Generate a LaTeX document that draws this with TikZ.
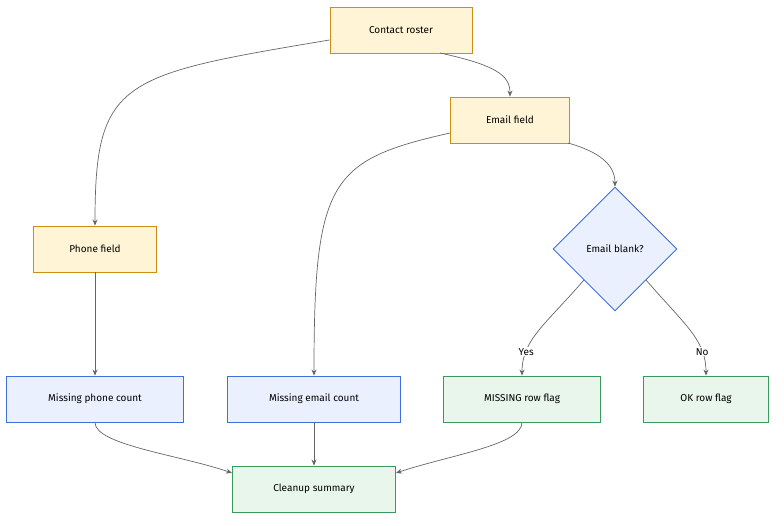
\documentclass[tikz,border=0pt]{standalone}
\usepackage{fontspec}
\setmainfont{Fira Sans}
\usetikzlibrary{shapes.geometric,arrows.meta}
\definecolor{orgfill}{HTML}{FFF4D6}
\definecolor{orgline}{HTML}{CC8F14}
\definecolor{bluefill}{HTML}{EAF0FD}
\definecolor{blueline}{HTML}{3F6FD8}
\definecolor{grnfill}{HTML}{E9F6EC}
\definecolor{grnline}{HTML}{3A9A5E}
\definecolor{edge}{HTML}{666666}
\tikzset{
  box/.style={draw, line width=0.9pt, minimum height=46pt, inner sep=0pt, font=\fontsize{10}{12}\selectfont},
  src/.style={box, fill=orgfill, draw=orgline},
  cnt/.style={box, fill=bluefill, draw=blueline},
  res/.style={box, fill=grnfill, draw=grnline},
  ask/.style={diamond, draw=blueline, fill=bluefill, line width=0.9pt, minimum width=124pt, minimum height=124pt, inner sep=0pt, font=\fontsize{10}{12}\selectfont},
  flow/.style={draw=edge, line width=0.7pt, -{Stealth[length=6pt,width=5pt]}},
  tag/.style={fill=white, inner sep=1pt, font=\fontsize{10}{12}\selectfont}
}
\begin{document}
\begin{tikzpicture}[x=1pt,y=-1pt]
	\useasboundingbox (0,0) rectangle (784,526);
	% Nodes:
	\node[src, minimum width=142pt] (roster) at (401,30) {Contact roster};
	\node[src, minimum width=119pt] (email) at (510,120) {Email field};
	\node[src, minimum width=123pt] (phone) at (95,249) {Phone field};
	\node[ask] (blank) at (615,249) {Email blank?};
	\node[cnt, minimum width=177pt] (mphone) at (95,399) {Missing phone count};
	\node[cnt, minimum width=173pt] (memail) at (314,399) {Missing email count};
	\node[res, minimum width=157pt] (mflag) at (522,399) {MISSING row flag};
	\node[res, minimum width=125pt] (okflag) at (706,399) {OK row flag};
	\node[res, minimum width=163pt] (summary) at (314,489) {Cleanup summary};
	% Connectors:
	\draw[flow] (roster.west |- 0,40) .. controls (120,75) and (95,80) .. (phone.north);
	\draw[flow] (440,53) .. controls (495,65) and (510,75) .. (email.north);
	\draw[flow] (email.west |- 0,133) .. controls (330,160) and (314,180) .. (memail.north);
	\draw[flow] (568,143) .. controls (600,152) and (615,165) .. (blank.north);
	\draw[flow] (blank.south west) .. controls (545,325) and (522,340) .. node[tag, pos=0.75]{Yes} (mflag.north);
	\draw[flow] (blank.south east) .. controls (685,325) and (706,340) .. node[tag, pos=0.75]{No} (okflag.north);
	\draw[flow] (phone) -- (mphone);
	\draw[flow] (mphone.south) .. controls (95,445) and (180,455) .. (summary.west |- 0,473);
	\draw[flow] (memail) -- (summary);
	\draw[flow] (mflag.south) .. controls (522,445) and (450,455) .. (summary.east |- 0,473);
\end{tikzpicture}
\end{document}
